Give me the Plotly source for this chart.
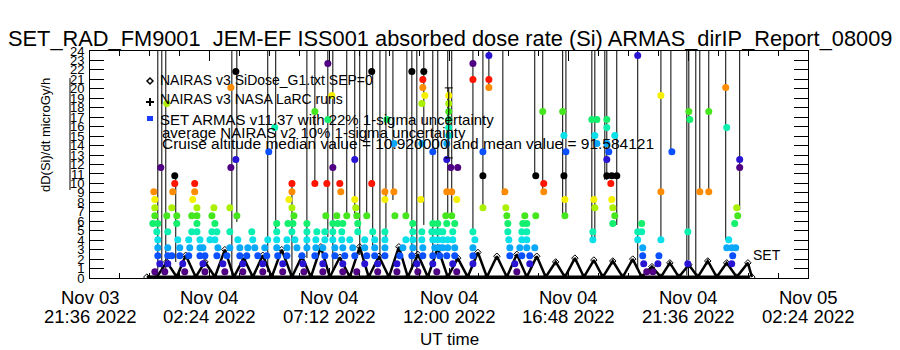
import plotly.graph_objects as go
import pandas as pd

# ---------------- data (times = hours after 2022-11-04 00:00 UT) ----------------
T0 = pd.Timestamp("2022-11-04 00:00:00")

tick_hours = [-2.4, 2.4, 7.2, 12.0, 16.8, 21.6, 26.4]
tick_dates = ["Nov 03", "Nov 04", "Nov 04", "Nov 04", "Nov 04", "Nov 04", "Nov 05"]
tick_clock = ["21:36 2022", "02:24 2022", "07:12 2022", "12:00 2022", "16:48 2022",
              "21:36 2022", "02:24 2022"]
y_tick_values = list(range(0, 25))

# SET ARMAS dose rate: quantised dose levels (microGy/h) and the times each level was seen
armas_dose_levels = [0.67, 1.51, 2.36, 3.21, 4.05, 4.90, 5.75, 6.59, 7.44, 8.29, 9.13, 9.98,
                     10.82, 11.67, 12.52, 13.36, 14.21, 15.06, 15.90, 16.75, 17.60, 18.44,
                     19.29, 20.14, 20.98, 21.83, 22.67, 23.52]
armas_hours_by_level = [
    [0.20, 0.60, 1.40, 2.21, 3.01, 3.73, 4.53, 5.33, 6.18, 6.94, 7.74, 8.30, 9.14, 9.91, 10.75, 11.51, 12.31, 14.72, 19.93, 20.18],
    [0.40, 0.72, 1.32, 2.13, 2.93, 3.73, 4.53, 5.33, 6.14, 6.94, 7.74, 8.62, 9.14, 9.91, 10.71, 11.35, 12.15, 12.96, 14.64, 15.24, 19.81, 20.38, 21.58, 23.34],
    [0.32, 0.72, 0.88, 1.20, 1.56, 2.01, 2.21, 2.69, 3.09, 3.61, 3.89, 4.33, 4.69, 5.13, 5.50, 6.10, 6.62, 7.02, 7.42, 7.82, 8.22, 8.70, 9.02, 9.43, 10.03, 10.51, 10.95, 11.35, 11.63, 11.91, 12.23, 12.96, 14.44, 14.92, 15.24, 19.77, 20.42, 23.38],
    [0.32, 0.72, 1.20, 1.60, 2.01, 2.13, 2.73, 3.21, 3.61, 3.93, 4.21, 4.61, 5.09, 5.50, 5.90, 6.30, 6.66, 6.94, 7.42, 7.74, 8.14, 8.62, 9.02, 9.43, 10.15, 10.55, 10.95, 11.43, 11.63, 11.75, 11.95, 12.23, 12.96, 14.44, 14.84, 15.12, 15.44, 19.77, 23.14, 23.34, 23.50],
    [0.32, 1.12, 1.56, 2.01, 2.41, 2.61, 3.53, 4.13, 4.73, 5.09, 5.50, 5.82, 6.30, 6.66, 7.02, 7.34, 7.70, 8.02, 8.62, 9.02, 9.43, 10.27, 10.55, 10.91, 11.35, 11.55, 11.75, 11.95, 12.15, 13.04, 14.40, 14.92, 15.12, 17.77, 19.57, 20.50, 23.22],
    [0.28, 0.72, 1.68, 1.89, 2.49, 2.69, 3.21, 4.09, 5.09, 5.70, 6.30, 6.70, 7.02, 7.34, 7.70, 8.34, 8.94, 9.43, 10.55, 10.91, 11.31, 11.51, 11.63, 11.75, 12.15, 12.96, 14.36, 14.92, 15.12, 17.77, 19.57, 19.73, 21.58],
    [0.12, 0.32, 1.08, 1.89, 2.61, 5.09, 5.54, 5.74, 6.30, 7.34, 7.54, 7.74, 8.34, 10.55, 11.35, 11.55, 11.91, 12.23, 14.36, 14.96, 15.12, 18.57, 19.73, 23.46],
    [0.20, 0.68, 1.08, 1.68, 1.89, 2.49, 3.49, 5.78, 7.06, 7.50, 7.90, 8.30, 8.70, 9.83, 10.27, 11.87, 12.11, 14.32, 15.04, 15.48, 16.65, 18.65, 23.58],
    [0.20, 0.88, 1.89, 2.57, 3.21, 5.70, 8.26, 13.36, 14.28, 17.85, 18.57, 23.54],
    [0.20, 1.72, 5.58, 8.22, 9.43, 10.87, 12.31, 16.65, 17.81, 18.53],
    [0.16, 0.92, 1.80, 5.70, 7.66, 9.43, 9.79, 11.91, 12.11, 14.24, 15.80, 20.50, 22.06, 22.42],
    [1.00, 1.80, 5.70, 6.62, 7.10, 7.62, 8.90, 15.80, 18.49],
    [1.00, 13.36, 15.48, 16.61, 18.33, 18.53, 18.73],
    [0.44, 3.25, 7.34, 12.07, 12.35, 23.66],
    [3.45, 8.22, 11.91, 18.33, 23.66],
    [4.77, 11.35, 13.36, 16.69, 18.41, 20.94],
    [9.79, 10.91, 11.91, 17.93, 18.33],
    [11.99, 16.61, 17.85, 18.65],
    [5.01, 11.99, 18.33, 23.14],
    [7.14, 9.51, 11.99, 17.73, 17.93, 18.33, 21.66],
    [6.62, 11.99, 15.76, 16.56, 21.62, 22.42],
    [0.68, 10.91, 11.99],
    [7.30, 11.03, 11.99, 20.50],
    [3.25, 10.95, 13.60, 23.10],
    [10.95, 12.96, 13.60],
    [3.45, 8.90, 10.51, 10.99],
    [7.14, 12.96],
    [13.60, 19.57],
]

# ARMAS uncertainty bars (most run far off the top of the plot)
bar_hours = [0.32, 0.48, 0.64, 1.04, 3.29, 3.49, 4.73, 5.05, 5.70, 6.30, 6.62, 7.14, 7.34, 7.90,
             8.22, 8.42, 8.70, 8.94, 9.23, 9.47, 9.75, 10.31, 10.51, 10.71, 10.99, 11.35, 11.55,
             11.95, 12.11, 12.96, 13.36, 13.60, 14.16, 15.44, 15.76, 16.56, 16.69, 17.73, 17.85,
             18.25, 18.33, 18.73, 19.57, 20.50, 20.90, 21.54, 21.62, 21.90, 22.06, 22.42, 23.10,
             23.66]
bar_low = [0.85, 1.06, 0.63, 1.69, 0.32, 5.93, 0.63, 4.87, 0.32, 2.12, 9.95, 4.34, 0.85, 6.67,
           6.67, 2.43, 6.67, 2.96, 2.12, 4.02, 8.25, 6.67, 0.85, 0.85, 5.61, 2.43, 4.02,
           6.46, 6.46, 4.55, 7.41, 20.10, 8.78, 10.79, 9.31, 6.67, 6.67, 4.02, 4.02,
           10.37, 10.37, 5.61, 0.85, 4.02, 13.33, 0.32, 1.90, 0.32, 9.31, 9.31, 4.02,
           7.20]
bar_high = [30, 30, 30, 10.79, 30, 30, 30, 30, 9.95, 30, 30, 30, 30, 30,
            30, 30, 30, 30, 30, 30, 30, 30, 30, 30, 30, 30, 30,
            30, 30, 30, 30, 30, 30, 30, 30, 30, 30, 30, 30,
            30, 30, 30, 30, 30, 30, 30, 30, 30, 30, 30, 30,
            30]

# NAIRAS v3 SiDose_G1 model (orbit-modulated)
nairas_hours = [-0.12, 0.28, 0.68, 1.08, 1.44, 1.84, 2.21, 2.61, 3.01, 3.37, 3.77, 4.13, 4.53,
                4.89, 5.29, 5.70, 6.10, 6.46, 6.86, 7.22, 7.62, 8.02, 8.42, 8.78, 9.19, 9.59,
                9.99, 10.35, 10.75, 11.15, 11.55, 11.95, 12.35, 12.75, 13.16, 13.52, 13.92,
                14.32, 14.72, 15.12, 15.52, 15.88, 16.28, 16.65, 17.05, 17.41, 17.81, 18.17,
                18.57, 18.97, 19.37, 19.73, 20.14, 20.50, 20.86, 21.22, 21.62, 21.98, 22.38,
                22.74, 23.14, 23.54, 23.99, 24.15]
nairas_dose = [0.1, 0.1, 1.7, 0.1, 2.4, 0.1, 1.7, 0.1, 3.0, 0.1, 2.1, 0.1, 2.4,
               0.1, 3.0, 0.1, 2.3, 0.1, 3.3, 0.1, 2.2, 0.1, 3.3, 0.1, 2.3, 0.1,
               3.3, 0.1, 2.5, 0.1, 3.2, 0.1, 2.1, 0.1, 2.7, 0.1, 2.3,
               0.1, 2.5, 0.1, 2.3, 0.1, 1.7, 0.1, 2.1, 0.1, 1.9, 0.1,
               1.8, 0.1, 2.0, 0.1, 1.2, 0.1, 1.6, 0.1, 1.4, 0.1, 1.8,
               0.1, 1.6, 0.1, 1.6, 0.1]

# NAIRAS v3 NASA LaRC runs (near zero) and one averaged point with uncertainty
larc_hours = [-0.12, 24.07]
larc_dose = [0.05, 0.05]
avg_hours = [11.99]
avg_dose = [16.4]
avg_err = [3.7]

title_text = "SET_RAD_FM9001  JEM-EF ISS001 absorbed dose rate (Si) ARMAS_dirIP_Report_08009"
legend_lines = ["NAIRAS v3 SiDose_G1.txt SEP=0",
                "NAIRAS v3 NASA LaRC runs",
                "SET ARMAS v11.37 with 22% 1-sigma uncertainty",
                "average NAIRAS v2 10% 1-sigma uncertainty",
                "Cruise altitude median value = 10.920000 and mean value = 91.584121"]

# ---------------- styling ----------------
PALETTE = ["#500082", "#2814d2", "#0a50ff", "#0aa8fa", "#0ae0e8", "#0af0b0", "#14f06e",
           "#46e61e", "#aaf000", "#f5f000", "#ff8c00", "#ff1400", "#000000"]
FONT = "Liberation Sans, Arial, sans-serif"

L, R, T, B = 90, 808, 51, 278
W, H = 900, 350


def px(x):
    return (x - L) / (R - L)


def py(y):
    return (B - y) / (B - T)


def ts(hours):
    return [T0 + pd.Timedelta(hours=h) for h in hours]


fig = go.Figure()

# uncertainty bars
bx, by = [], []
for t, lo, hi in zip(ts(bar_hours), bar_low, bar_high):
    bx += [t, t, None]
    by += [lo, hi, None]
fig.add_trace(go.Scatter(x=bx, y=by, mode="lines", line=dict(color="black", width=1),
                         hoverinfo="skip", showlegend=False))

# LaRC baseline
fig.add_trace(go.Scatter(x=ts(larc_hours), y=larc_dose, mode="lines",
                         line=dict(color="black", width=4), showlegend=False))

# NAIRAS zigzag
fig.add_trace(go.Scatter(x=ts(nairas_hours), y=nairas_dose, mode="lines+markers",
                         line=dict(color="black", width=2.5),
                         marker=dict(symbol="diamond-open", size=5, color="black", line=dict(width=1)),
                         showlegend=False))

# ARMAS dots
ax, ay, ac = [], [], []
for i, (lvl, hrs) in enumerate(zip(armas_dose_levels, armas_hours_by_level)):
    for t in ts(hrs):
        ax.append(t)
        ay.append(lvl)
        ac.append(PALETTE[i % len(PALETTE)])
fig.add_trace(go.Scatter(x=ax, y=ay, mode="markers",
                         marker=dict(symbol="circle", size=7, color=ac, line=dict(width=0)),
                         showlegend=False))

# averaged point with error bar
fig.add_trace(go.Scatter(x=ts(avg_hours), y=avg_dose, mode="markers",
                         marker=dict(size=1, color="black"),
                         error_y=dict(type="data", array=avg_err, color="black", thickness=1, width=4),
                         showlegend=False))

annotations = [
    dict(text=title_text, x=px(450), y=py(38), xref="paper", yref="paper", showarrow=False,
         xanchor="center", yanchor="middle", font=dict(family=FONT, size=21.8, color="black")),
    dict(text="dD(Si)/dt microGy/h", x=px(45), y=py(135), xref="paper", yref="paper",
         showarrow=False, textangle=-90, xanchor="center", yanchor="middle",
         font=dict(family=FONT, size=13, color="black")),
    dict(text="UT time", x=px(449), y=py(339), xref="paper", yref="paper", showarrow=False,
         xanchor="center", yanchor="middle", font=dict(family=FONT, size=17, color="black")),
    dict(text="SET", x=px(751), y=py(255), xref="paper", yref="paper", showarrow=False,
         xanchor="left", yanchor="middle", font=dict(family=FONT, size=14, color="black")),
]
# x tick labels (two lines, placed as in the reference)
for h, d, c in zip(tick_hours, tick_dates, tick_clock):
    xf = (h - tick_hours[0]) / (tick_hours[-1] - tick_hours[0])
    annotations.append(dict(text=d, x=xf, y=py(297), xref="paper", yref="paper", showarrow=False,
                            xanchor="center", yanchor="middle",
                            font=dict(family=FONT, size=18.5, color="black")))
    annotations.append(dict(text=c, x=xf, y=py(316), xref="paper", yref="paper", showarrow=False,
                            xanchor="center", yanchor="middle",
                            font=dict(family=FONT, size=18.5, color="black")))

legend_pos = [(158, 80), (158, 99), (158, 119), (160, 132), (160, 143)]
legend_sizes = [14, 14, 15, 15, 15.5]
for txt, (lx, ly), fs in zip(legend_lines, legend_pos, legend_sizes):
    annotations.append(dict(text=txt, x=px(lx), y=py(ly), xref="paper", yref="paper",
                            showarrow=False, xanchor="left", yanchor="middle",
                            font=dict(family=FONT, size=fs, color="black")))

shapes = [
    # diamond legend symbol
    dict(type="path", xref="paper", yref="paper",
         path=f"M {px(147)} {py(81)} L {px(150)} {py(78)} L {px(153)} {py(81)} L {px(150)} {py(84)} Z",
         line=dict(color="black", width=1.5)),
    # plus legend symbol
    dict(type="line", xref="paper", yref="paper", x0=px(146), x1=px(154), y0=py(102), y1=py(102),
         line=dict(color="black", width=2)),
    dict(type="line", xref="paper", yref="paper", x0=px(150), x1=px(150), y0=py(98), y1=py(106),
         line=dict(color="black", width=2)),
    # filled square legend symbol
    dict(type="rect", xref="paper", yref="paper", x0=px(147), x1=px(153), y0=py(121), y1=py(116),
         fillcolor="#1a3cff", line=dict(width=0)),
    # stray line from overlapping axis labels
    dict(type="line", xref="paper", yref="paper", x0=px(70), x1=px(70), y0=py(78), y1=py(190),
         line=dict(color="black", width=1)),
]

fig.update_layout(
    width=W, height=H,
    margin=dict(l=L, r=W - R, t=T, b=H - B, pad=0),
    paper_bgcolor="white", plot_bgcolor="white",
    showlegend=False,
    annotations=annotations, shapes=shapes,
    font=dict(family=FONT, color="black"),
)
fig.update_xaxes(
    type="date", range=[T0 + pd.Timedelta(hours=tick_hours[0]), T0 + pd.Timedelta(hours=tick_hours[-1])],
    tickvals=ts(tick_hours), showticklabels=False,
    ticks="inside", ticklen=10, tickcolor="black", tickwidth=1,
    showline=True, linecolor="black", linewidth=1, mirror="ticks",
    showgrid=False, zeroline=False,
    minor=dict(ticks="inside", ticklen=5, tickcolor="black", dtick=1.2 * 3600 * 1000,
               tick0=T0 + pd.Timedelta(hours=tick_hours[0]), showgrid=False),
)
fig.update_yaxes(
    range=[0, 24], tickvals=y_tick_values, ticktext=[str(v) for v in y_tick_values],
    ticks="inside", ticklen=14, tickcolor="black", tickwidth=1,
    showline=True, linecolor="black", linewidth=1, mirror="ticks",
    showgrid=False, zeroline=False,
    tickfont=dict(family=FONT, size=13, color="black"), ticklabelstandoff=2,
)

fig.write_html("out.html")
